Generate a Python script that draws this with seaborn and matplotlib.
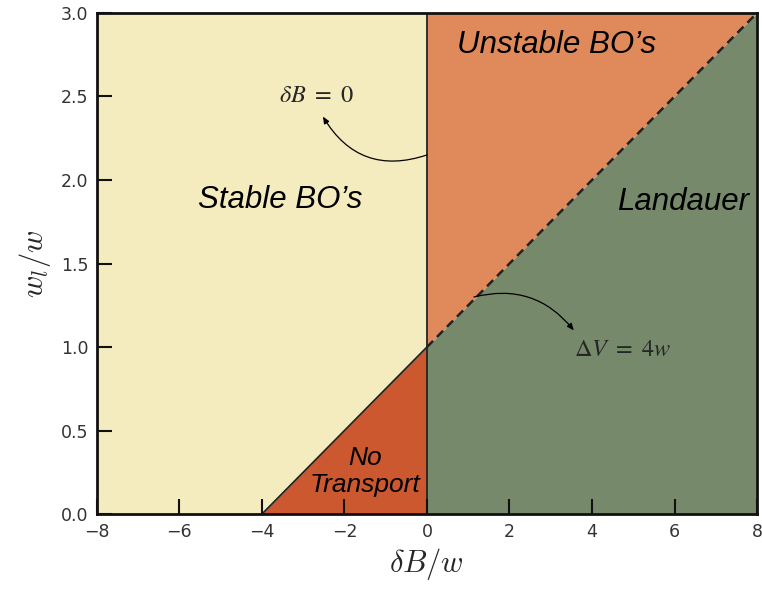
import matplotlib
matplotlib.use("Agg")
import matplotlib.pyplot as plt
import seaborn as sns
import pandas as pd

# Phase boundaries: the ΔV = 4w line (clipped at w_l = 0) and the δB = 0 line
boundary_x = [-8, -4, 0, 8]
boundary_y = [0.0, 0.0, 1.0, 3.0]
y_top = 3.0

region_names = ["Stable BO’s", "Unstable BO’s", "No\nTransport", "Landauer"]
region_colors = ["#F4ECBE", "#E08A5C", "#CB582F", "#76896A"]

sns.set_style("ticks")
plt.rcParams["font.family"] = ["DejaVu Sans"]
plt.rcParams["mathtext.fontset"] = "cm"

fig = plt.figure(figsize=(7.62, 5.89), dpi=100)
ax = fig.add_axes([0.127, 0.127, 0.8665, 0.851])
ax.set_axisbelow(False)

# Stable BO's: left of δB = 0, above the line
ax.fill_between(boundary_x[:3], boundary_y[:3], y_top, color=region_colors[0], lw=0)
# Unstable BO's: right of δB = 0, above the line
ax.fill_between(boundary_x[2:], boundary_y[2:], y_top, color=region_colors[1], lw=0)
# No transport: left of δB = 0, below the line
ax.fill_between(boundary_x[1:3], 0, boundary_y[1:3], color=region_colors[2], lw=0)
# Landauer: right of δB = 0, below the line
ax.fill_between(boundary_x[2:], 0, boundary_y[2:], color=region_colors[3], lw=0)

solid = pd.DataFrame({"x": boundary_x[1:3], "y": boundary_y[1:3]})
dashed = pd.DataFrame({"x": boundary_x[2:], "y": boundary_y[2:]})
vertical = pd.DataFrame({"x": [0, 0], "y": [0, y_top]})
sns.lineplot(data=solid, x="x", y="y", ax=ax, color="#222222", lw=1.3)
sns.lineplot(data=dashed, x="x", y="y", ax=ax, color="#222222", lw=1.8,
             linestyle=(0, (3.5, 2.2)))
sns.lineplot(data=vertical, x="x", y="y", ax=ax, color="#222222", lw=1.3,
             orient="y")

ax.set_xlim(-8, 8)
ax.set_ylim(0, 3)
ax.set_xticks([-8, -6, -4, -2, 0, 2, 4, 6, 8])
ax.set_yticks([0.0, 0.5, 1.0, 1.5, 2.0, 2.5, 3.0])
ax.tick_params(direction="in", length=10.5, width=1.5, labelsize=12.5,
               labelcolor="#333333", color="#111111", pad=6)
for s in ax.spines.values():
    s.set_linewidth(2)
    s.set_color("#111111")
    s.set_zorder(5)

ax.set_xlabel(r"$\delta B/w$", fontsize=22, labelpad=4)
ax.set_ylabel(r"$w_l/w$", fontsize=22, labelpad=6)

label_kw = dict(fontsize=22.5, style="italic", family=["Liberation Sans", "DejaVu Sans"],
                ha="center", va="center", color="black")
ax.text(-3.55, 1.88, region_names[0], **label_kw)
ax.text(3.13, 2.81, region_names[1], **label_kw)
ax.text(6.2, 1.87, region_names[3], **label_kw)
ax.text(-1.5, 0.255, region_names[2], linespacing=1.2,
        **{**label_kw, "fontsize": 19})

math_kw = dict(fontsize=17.5, ha="center", va="center", math_fontfamily="stix")
arrow_kw = dict(arrowstyle="-|>,head_length=0.4,head_width=0.17",
                color="black", lw=0.9, shrinkA=0, shrinkB=0)

ax.text(-2.67, 2.51, r"$\delta B\ =\ 0$", **math_kw)
ax.annotate("", xy=(-2.52, 2.38), xytext=(0.0, 2.15),
            arrowprops=dict(**arrow_kw, connectionstyle="arc3,rad=-0.4"))

ax.text(4.75, 0.99, r"$\Delta V\ =\ 4w$", **math_kw)
ax.annotate("", xy=(3.56, 1.10), xytext=(1.14, 1.30),
            arrowprops=dict(**arrow_kw, connectionstyle="arc3,rad=-0.32"))

fig.savefig("out.png", dpi=100)
